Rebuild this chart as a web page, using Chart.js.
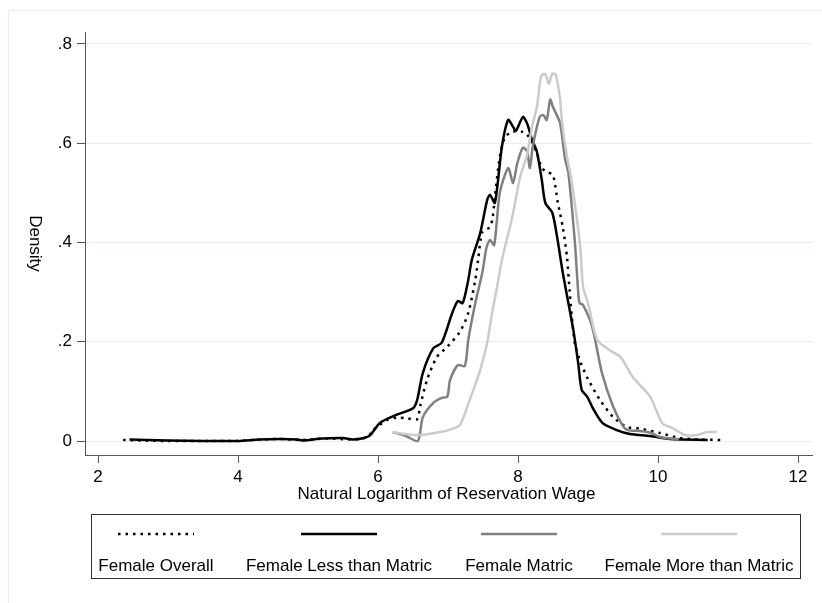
<!DOCTYPE html>
<html>
<head>
<meta charset="utf-8">
<script src="https://cdn.jsdelivr.net/npm/chart.js@4/dist/chart.umd.min.js"></script>
<style>
    body { margin: 0; background: #fff; }
    #wrap { width: 822px; height: 603px; }
</style>
</head>
<body>
<div id="wrap"><canvas id="density-chart" width="822" height="603"></canvas></div>
<script>
// Kernel density estimates (x = log reservation wage)
const overallX = [2.36, 2.6, 3.0, 3.5, 4.0, 4.3, 4.6, 4.9, 5.0, 5.3, 5.6, 5.7, 5.85, 5.93, 6.03, 6.13, 6.27, 6.4, 6.56, 6.6, 6.7, 6.84, 6.99, 7.17, 7.29, 7.39, 7.43, 7.49, 7.6, 7.64, 7.67, 7.74, 7.81, 7.91, 8.06, 8.13, 8.2, 8.27, 8.34, 8.42, 8.5, 8.57, 8.64, 8.7, 8.74, 8.81, 8.89, 9.0, 9.17, 9.36, 9.56, 9.74, 10.03, 10.31, 10.6, 10.91];
const overallY = [0.002, 0.001, 0, 0, 0, 0.003, 0.004, 0.002, 0.003, 0.005, 0.003, 0.004, 0.008, 0.022, 0.033, 0.042, 0.047, 0.046, 0.044, 0.069, 0.123, 0.169, 0.19, 0.22, 0.258, 0.325, 0.365, 0.421, 0.431, 0.452, 0.492, 0.573, 0.611, 0.623, 0.623, 0.617, 0.603, 0.58, 0.55, 0.542, 0.536, 0.48, 0.431, 0.37, 0.298, 0.198, 0.16, 0.125, 0.083, 0.048, 0.028, 0.025, 0.016, 0.006, 0.003, 0.002];

const lessX = [2.45, 2.7, 3.0, 3.5, 4.0, 4.3, 4.6, 4.85, 4.93, 5.2, 5.5, 5.64, 5.8, 5.89, 6.03, 6.27, 6.5, 6.56, 6.64, 6.79, 6.91, 7.06, 7.14, 7.21, 7.29, 7.34, 7.46, 7.56, 7.6, 7.67, 7.77, 7.86, 7.93, 7.97, 8.07, 8.13, 8.2, 8.27, 8.34, 8.39, 8.49, 8.56, 8.64, 8.79, 8.86, 8.91, 8.99, 9.07, 9.21, 9.41, 9.6, 9.89, 10.17, 10.71];
const lessY = [0.003, 0.002, 0.001, 0, 0, 0.003, 0.004, 0.003, 0.001, 0.005, 0.006, 0.003, 0.006, 0.012, 0.037, 0.053, 0.066, 0.083, 0.137, 0.187, 0.198, 0.258, 0.282, 0.278, 0.325, 0.365, 0.419, 0.486, 0.496, 0.48, 0.593, 0.647, 0.633, 0.625, 0.653, 0.64, 0.607, 0.583, 0.526, 0.48, 0.46, 0.41, 0.339, 0.224, 0.157, 0.103, 0.089, 0.066, 0.036, 0.022, 0.014, 0.01, 0.004, 0.002];

const matricX = [6.21, 6.4, 6.57, 6.64, 6.79, 6.91, 6.99, 7.03, 7.14, 7.24, 7.29, 7.39, 7.49, 7.55, 7.6, 7.66, 7.74, 7.86, 7.93, 7.99, 8.07, 8.13, 8.17, 8.21, 8.31, 8.36, 8.41, 8.46, 8.5, 8.6, 8.67, 8.72, 8.81, 8.86, 8.88, 8.93, 9.06, 9.2, 9.36, 9.5, 9.57, 9.74, 9.89, 10.03, 10.17, 10.3];
const matricY = [0.018, 0.01, 0, 0.048, 0.077, 0.087, 0.089, 0.123, 0.153, 0.151, 0.204, 0.278, 0.339, 0.39, 0.405, 0.395, 0.5, 0.55, 0.52, 0.56, 0.591, 0.583, 0.55, 0.593, 0.653, 0.657, 0.647, 0.688, 0.673, 0.641, 0.57, 0.54, 0.405, 0.3, 0.278, 0.274, 0.23, 0.137, 0.069, 0.03, 0.022, 0.02, 0.017, 0.008, 0.005, 0.004];

const moreX = [6.21, 6.4, 6.6, 6.89, 7.05, 7.17, 7.31, 7.46, 7.56, 7.63, 7.7, 7.77, 7.91, 8.03, 8.13, 8.2, 8.27, 8.33, 8.39, 8.44, 8.49, 8.54, 8.6, 8.63, 8.7, 8.77, 8.89, 8.93, 9.0, 9.13, 9.31, 9.46, 9.64, 9.89, 10.06, 10.21, 10.39, 10.56, 10.7, 10.84];
const moreY = [0.018, 0.014, 0.012, 0.018, 0.024, 0.032, 0.083, 0.143, 0.198, 0.258, 0.31, 0.365, 0.446, 0.532, 0.577, 0.633, 0.673, 0.735, 0.74, 0.72, 0.74, 0.738, 0.69, 0.641, 0.573, 0.52, 0.391, 0.31, 0.278, 0.204, 0.183, 0.17, 0.129, 0.089, 0.036, 0.026, 0.012, 0.012, 0.018, 0.018];

const seriesNames = ['Female Overall', 'Female Less than Matric', 'Female Matric', 'Female More than Matric'];
const xTicks = [2, 4, 6, 8, 10, 12];
const yTicks = [0, 0.2, 0.4, 0.6, 0.8];
const yTickLabels = ['0', '.2', '.4', '.6', '.8'];
const xTitle = 'Natural Logarithm of Reservation Wage';
const yTitle = 'Density';

const FONT = "'Liberation Sans', Arial, Helvetica, sans-serif";
const GRID = '#e5eef0';
const AXIS = '#555555';

function points(xs, ys) {
    return xs.map((x, i) => ({ x: x, y: ys[i] }));
}

// background, outer frame, rotated y title, x title and the boxed legend
const stataLook = {
    id: 'stataLook',
    beforeDraw(chart) {
        const ctx = chart.ctx;
        ctx.save();
        ctx.fillStyle = '#ffffff';
        ctx.fillRect(0, 0, chart.width, chart.height);
        ctx.strokeStyle = GRID;
        ctx.lineWidth = 1;
        ctx.strokeRect(8.5, 10.5, 840, 620);
        ctx.restore();
    },
    afterDraw(chart) {
        const ctx = chart.ctx;
        const area = chart.chartArea;
        ctx.save();
        ctx.fillStyle = '#000';
        ctx.font = '17px ' + FONT;
        ctx.textAlign = 'center';
        ctx.textBaseline = 'middle';

        ctx.fillText(xTitle, (area.left + area.right) / 2 - 2, 494);

        ctx.save();
        ctx.translate(35, (area.top + area.bottom) / 2);
        ctx.rotate(Math.PI / 2);
        ctx.fillText(yTitle, 0, 0);
        ctx.restore();

        // legend
        ctx.strokeStyle = '#333';
        ctx.lineWidth = 1;
        ctx.strokeRect(91.5, 514.5, 709, 64);
        const centers = [156, 339, 519, 699];
        chart.data.datasets.forEach((ds, i) => {
            const cx = centers[i];
            ctx.beginPath();
            ctx.strokeStyle = ds.borderColor;
            ctx.lineWidth = ds.borderWidth;
            ctx.setLineDash(ds.borderDash || []);
            ctx.moveTo(cx - 38, 534);
            ctx.lineTo(cx + 38, 534);
            ctx.stroke();
            ctx.setLineDash([]);
            ctx.fillText(ds.label, cx, 566);
        });
        ctx.restore();
    }
};

const lineStyle = { pointRadius: 0, borderWidth: 2.5, tension: 0.25, fill: false };

new Chart(document.getElementById('density-chart'), {
    type: 'line',
    data: {
        datasets: [
            Object.assign({ label: seriesNames[0], data: points(overallX, overallY), borderColor: '#000000', borderDash: [2.5, 5], order: 3 }, lineStyle),
            Object.assign({ label: seriesNames[1], data: points(lessX, lessY), borderColor: '#000000', order: 2 }, lineStyle),
            Object.assign({ label: seriesNames[2], data: points(matricX, matricY), borderColor: '#808080', order: 1 }, lineStyle),
            Object.assign({ label: seriesNames[3], data: points(moreX, moreY), borderColor: '#cbcbcb', order: 0 }, lineStyle)
        ]
    },
    options: {
        responsive: false,
        animation: false,
        devicePixelRatio: 1,
        layout: { padding: { top: 32, right: 10, left: 0, bottom: 0 } },
        plugins: {
            legend: { display: false },
            tooltip: { enabled: false }
        },
        scales: {
            x: {
                type: 'linear',
                min: 2 - 13 / 70,
                max: 12 + 14 / 70,
                afterBuildTicks: scale => { scale.ticks = xTicks.map(v => ({ value: v })); },
                afterFit: scale => { scale.height = 148; },
                grid: { drawOnChartArea: false, tickLength: 8, tickColor: AXIS },
                border: { color: AXIS, width: 1 },
                ticks: {
                    color: '#000',
                    font: { family: FONT, size: 17 },
                    padding: 4,
                    maxRotation: 0,
                    callback: (value, index) => String(xTicks[index])
                }
            },
            y: {
                type: 'linear',
                min: -14 / 496.25,
                max: 0.8 + 12 / 496.25,
                afterBuildTicks: scale => { scale.ticks = yTicks.map(v => ({ value: v })); },
                afterFit: scale => { scale.width = 85; },
                grid: { color: GRID, lineWidth: 1, tickLength: 8, tickColor: AXIS },
                border: { color: AXIS, width: 1 },
                ticks: {
                    color: '#000',
                    font: { family: FONT, size: 17 },
                    padding: 5,
                    callback: (value, index) => yTickLabels[index]
                }
            }
        }
    },
    plugins: [stataLook]
});
</script>
</body>
</html>
